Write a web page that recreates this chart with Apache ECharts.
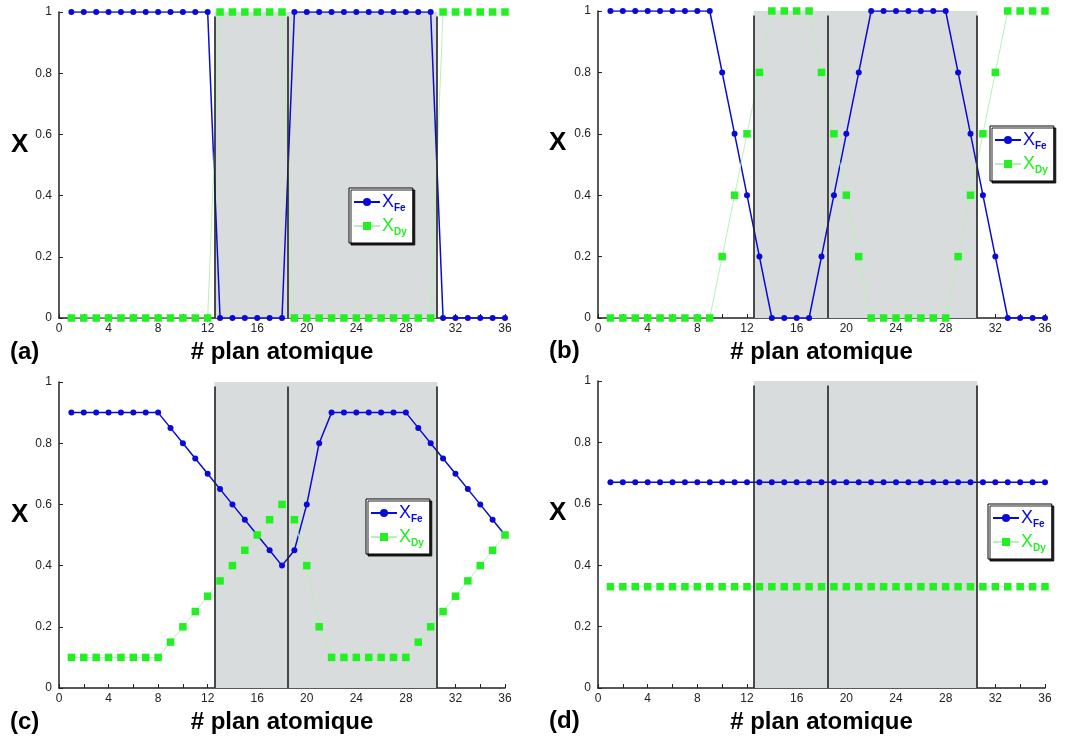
<!DOCTYPE html>
<html>
<head>
<meta charset="utf-8">
<script src="https://cdn.jsdelivr.net/npm/echarts@6/dist/echarts.min.js"></script>
<style>html,body{margin:0;padding:0;background:#fff}#c{width:1073px;height:740px}</style>
</head>
<body>
<div id="c"></div>
<script>
// atomic plane index
const planes = [1,2,3,4,5,6,7,8,9,10,11,12,13,14,15,16,17,18,19,20,21,22,23,24,25,26,27,28,29,30,31,32,33,34,35,36];

// panel (a)
const feA = [1,1,1,1,1,1,1,1,1,1,1,1,0,0,0,0,0,0,1,1,1,1,1,1,1,1,1,1,1,1,0,0,0,0,0,0];
const dyA = [0,0,0,0,0,0,0,0,0,0,0,0,1,1,1,1,1,1,0,0,0,0,0,0,0,0,0,0,0,0,1,1,1,1,1,1];
// panel (b)
const feB = [1,1,1,1,1,1,1,1,1,0.8,0.6,0.4,0.2,0,0,0,0,0.2,0.4,0.6,0.8,1,1,1,1,1,1,1,0.8,0.6,0.4,0.2,0,0,0,0];
const dyB = [0,0,0,0,0,0,0,0,0,0.2,0.4,0.6,0.8,1,1,1,1,0.8,0.6,0.4,0.2,0,0,0,0,0,0,0,0.2,0.4,0.6,0.8,1,1,1,1];
// panel (c)
const feC = [0.9,0.9,0.9,0.9,0.9,0.9,0.9,0.9,0.85,0.8,0.75,0.7,0.65,0.6,0.55,0.5,0.45,0.4,0.45,0.6,0.8,0.9,0.9,0.9,0.9,0.9,0.9,0.9,0.85,0.8,0.75,0.7,0.65,0.6,0.55,0.5];
const dyC = [0.1,0.1,0.1,0.1,0.1,0.1,0.1,0.1,0.15,0.2,0.25,0.3,0.35,0.4,0.45,0.5,0.55,0.6,0.55,0.4,0.2,0.1,0.1,0.1,0.1,0.1,0.1,0.1,0.15,0.2,0.25,0.3,0.35,0.4,0.45,0.5];
// panel (d)
const feD = [0.67,0.67,0.67,0.67,0.67,0.67,0.67,0.67,0.67,0.67,0.67,0.67,0.67,0.67,0.67,0.67,0.67,0.67,0.67,0.67,0.67,0.67,0.67,0.67,0.67,0.67,0.67,0.67,0.67,0.67,0.67,0.67,0.67,0.67,0.67,0.67];
const dyD = [0.33,0.33,0.33,0.33,0.33,0.33,0.33,0.33,0.33,0.33,0.33,0.33,0.33,0.33,0.33,0.33,0.33,0.33,0.33,0.33,0.33,0.33,0.33,0.33,0.33,0.33,0.33,0.33,0.33,0.33,0.33,0.33,0.33,0.33,0.33,0.33];

// interface planes and shaded region
const interfaces = [12.55, 18.5, 30.5];
const shadeRange = [12.55, 30.55];
const panelLabels = ['(a)','(b)','(c)','(d)'];
const xTitle = '# plan atomique';
const yTitle = 'X';

const BLUE = '#0a0ad8';
const GREEN = '#22f022';
const FONT = 'Liberation Sans, Arial, sans-serif';

const panels = [
  {fe: feA, dy: dyA, grid:{left:59, top:12, width:446, height:306}, legend:{left:349, top:188}, lab:{x:10, y:352}, yt:{x:20, y:145}},
  {fe: feB, dy: dyB, grid:{left:598, top:11, width:447, height:307}, legend:{left:990, top:126}, lab:{x:549, y:351}, yt:{x:558, y:143}},
  {fe: feC, dy: dyC, grid:{left:59, top:382, width:446, height:306}, legend:{left:366, top:499}, lab:{x:10, y:722}, yt:{x:20, y:515}},
  {fe: feD, dy: dyD, grid:{left:598, top:381, width:447, height:307}, legend:{left:988, top:504}, lab:{x:549, y:721}, yt:{x:558, y:513}}
];

const grids = [], xAxes = [], yAxes = [], series = [], legends = [], graphics = [];
panels.forEach((p, i) => {
  grids.push(p.grid);
  xAxes.push({
    type:'value', gridIndex:i, min:0, max:36, interval:2,
    axisLine:{lineStyle:{color:'#222', width:1.5}},
    axisTick:{inside:true, length:4, lineStyle:{color:'#222'}},
    splitLine:{show:false},
    axisLabel:{color:'#222', fontSize:12, fontFamily:FONT, margin:5,
      formatter: v => (v % 4 === 0 ? String(v) : '')},
    name: xTitle, nameLocation:'middle', nameGap:22,
    nameTextStyle:{fontSize:24, fontWeight:'bold', color:'#000', fontFamily:FONT, verticalAlign:'top'}
  });
  yAxes.push({
    type:'value', gridIndex:i, min:0, max:1, interval:0.2,
    axisLine:{show:true, lineStyle:{color:'#222', width:1.5}},
    axisTick:{show:true, inside:true, length:4, lineStyle:{color:'#222'}},
    splitLine:{show:false},
    axisLabel:{color:'#222', fontSize:12, fontFamily:FONT, margin:7,
      formatter: v => String(Math.round(v*10)/10)}
  });
  // shaded region
  series.push({
    type:'line', xAxisIndex:i, yAxisIndex:i, data:[], z:1, silent:true,
    markArea:{silent:true, itemStyle:{color:'#d9dcdc'},
      data:[[{coord:[shadeRange[0], 0]}, {coord:[shadeRange[1], 1]}]]}
  });
  // data series
  series.push({
    name:'Fe', type:'line', xAxisIndex:i, yAxisIndex:i, z:3,
    data: planes.map((x, k) => [x, p.fe[k]]),
    symbol:'circle', symbolSize:6,
    itemStyle:{color:BLUE}, lineStyle:{color:BLUE, width:1.5}
  });
  series.push({
    name:'Dy', type:'line', xAxisIndex:i, yAxisIndex:i, z:3,
    data: planes.map((x, k) => [x, p.dy[k]]),
    symbol:'rect', symbolSize:7.5,
    itemStyle:{color:GREEN}, lineStyle:{color:'#b8f0b8', width:1}
  });
  // interface lines
  series.push({
    type:'line', xAxisIndex:i, yAxisIndex:i, data:[], z:4, silent:true,
    markLine:{silent:true, symbol:'none', label:{show:false},
      lineStyle:{color:'#222', width:1.6, type:'solid'},
      data: interfaces.map(x => [{coord:[x, 0]}, {coord:[x, 0.985]}])}
  });
  legends.push({
    left:p.legend.left, top:p.legend.top, orient:'vertical',
    backgroundColor:'#fff', borderColor:'#000', borderWidth:1,
    shadowColor:'rgba(0,0,0,0.85)', shadowOffsetX:2, shadowOffsetY:2, shadowBlur:0,
    padding:[5,6,6,4], itemGap:4, itemWidth:26, itemHeight:10,
    selectedMode:false,
    data:[{name:'Fe'}, {name:'Dy'}],
    formatter: n => n === 'Fe' ? '{bm|X}{bs|Fe}' : '{gm|X}{gs|Dy}',
    textStyle:{fontFamily:FONT, padding:[0,0,0,-3], rich:{
      bm:{fontSize:18, color:BLUE, fontFamily:FONT, lineHeight:22},
      bs:{fontSize:10, color:BLUE, fontWeight:'bold', fontFamily:FONT, padding:[12,0,0,0]},
      gm:{fontSize:18, color:GREEN, fontFamily:FONT, lineHeight:22},
      gs:{fontSize:10, color:GREEN, fontWeight:'bold', fontFamily:FONT, padding:[12,0,0,0]}
    }}
  });
  graphics.push({type:'text', left:p.lab.x, top:p.lab.y - 12, z:10,
    style:{text:panelLabels[i], fontSize:24, fontWeight:'bold', fontFamily:FONT, fill:'#000'}});
  graphics.push({type:'text', left:p.yt.x - 9, top:p.yt.y - 13, z:10,
    style:{text:yTitle, fontSize:26, fontWeight:'bold', fontFamily:FONT, fill:'#000'}});
});

const chart = echarts.init(document.getElementById('c'), null, {renderer:'canvas'});
chart.setOption({
  animation:false,
  backgroundColor:'#fff',
  grid:grids, xAxis:xAxes, yAxis:yAxes, series:series, legend:legends, graphic:graphics
});
</script>
</body>
</html>
